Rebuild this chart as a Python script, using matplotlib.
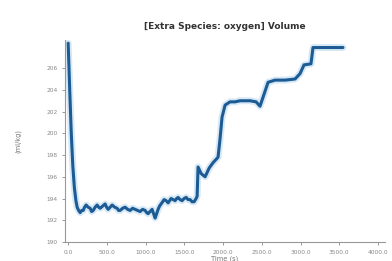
import matplotlib.pyplot as plt
import numpy as np

# values
time_s = [0, 20, 40, 60, 80, 100, 116, 135, 155, 175, 194, 212, 232, 258, 284, 303, 323,
          348, 374, 393, 413, 445, 477, 496, 516, 542, 568, 600, 632, 651, 671, 703, 735,
          768, 800, 832, 865, 897, 929, 961, 994, 1013, 1032, 1058, 1084, 1103, 1123,
          1142, 1161, 1180, 1200, 1220, 1239, 1265, 1290, 1310, 1329, 1355, 1381, 1400,
          1419, 1445, 1471, 1497, 1523, 1548, 1574, 1600, 1626, 1652, 1665, 1677, 1716,
          1768, 1820, 1871, 1935, 1961, 1987, 2026, 2090, 2155, 2219, 2284, 2348, 2426,
          2477, 2529, 2581, 2671, 2800, 2929, 2994, 3045, 3135, 3161, 3548]
volume = [208.3, 204.0, 200.0, 197.0, 195.0, 193.8, 193.2, 192.9, 192.7, 192.9, 192.9,
          193.2, 193.4, 193.2, 193.1, 192.8, 192.9, 193.2, 193.4, 193.2, 193.1, 193.3,
          193.5, 193.2, 193.0, 193.2, 193.4, 193.2, 193.1, 192.9, 192.9, 193.1, 193.2,
          193.0, 192.9, 193.1, 193.0, 192.9, 192.8, 193.0, 192.9, 192.7, 192.6, 192.8,
          193.0, 192.6, 192.2, 192.6, 193.0, 193.3, 193.5, 193.7, 193.9, 193.8, 193.6,
          193.8, 194.0, 193.9, 193.8, 194.0, 194.1, 193.9, 193.8, 194.0, 194.1, 193.9,
          193.9, 193.7, 193.7, 194.0, 194.2, 196.9, 196.3, 196.0, 196.8, 197.3, 197.8,
          199.5, 201.5, 202.6, 202.9, 202.9, 203.0, 203.0, 203.0, 202.9, 202.5, 203.6,
          204.7, 204.9, 204.9, 205.0, 205.5, 206.3, 206.4, 207.9, 207.9]

x_ticks = [0, 500, 1000, 1500, 2000, 2500, 3000, 3500, 4000]
y_ticks = [190, 192, 194, 196, 198, 200, 202, 204, 206]

fig = plt.figure(figsize=(3.92, 2.61), dpi=100)
ax = fig.add_axes([0.166, 0.073, 0.816, 0.774])

ax.plot(time_s, volume, color='#9cc8ea', linewidth=5, alpha=0.4, solid_capstyle='round')
ax.plot(time_s, volume, color='#1d5b94', linewidth=2.2, solid_capstyle='round')

ax.set_xlim(-40, 4090)
ax.set_ylim(190, 208.6)
ax.set_xticks(x_ticks)
ax.set_xticklabels([f'{t:.1f}' for t in x_ticks])
ax.set_yticks(y_ticks)
ax.set_yticklabels([str(v) for v in y_ticks])
ax.tick_params(labelsize=4.2, colors='#888888', length=2, width=0.6)

for s in ['top', 'right']:
    ax.spines[s].set_visible(False)
for s in ['left', 'bottom']:
    ax.spines[s].set_color('#999999')
    ax.spines[s].set_linewidth(0.8)

ax.set_title('[Extra Species: oxygen] Volume', fontsize=6.5, fontweight='bold',
             color='#333333', pad=8)
ax.set_xlabel('Time (s)', fontsize=4.8, color='#777777', labelpad=1)
ax.set_ylabel('(ml/kg)', fontsize=4.8, color='#777777', labelpad=18)

fig.savefig('out.png', dpi=100)
